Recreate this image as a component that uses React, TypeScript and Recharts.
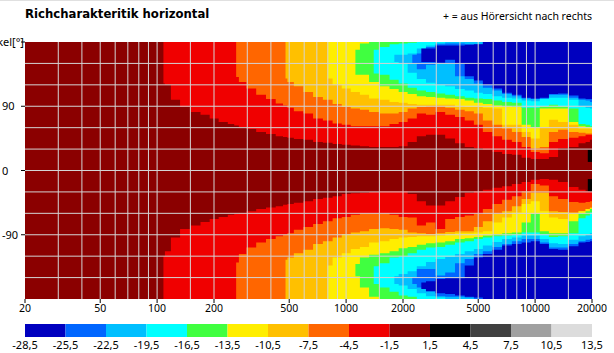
import React from 'react';
import { ComposedChart, Area, XAxis, YAxis, CartesianGrid } from 'recharts';

const freqs = [20, 100, 108, 112, 125, 140, 160, 180, 200, 224, 250, 262, 280, 315, 355, 400, 450, 478, 500, 560, 630, 710, 800, 900, 1000, 1120, 1250, 1400, 1600, 1800, 2000, 2240, 2500, 2800, 3150, 3550, 4000, 4500, 5000, 5600, 6300, 7100, 8000, 9000, 10000, 11200, 12500, 14000, 16000, 18000, 19000, 20000];
const at = (start: number, vals: number[]) => {
  const s = freqs.indexOf(start);
  return freqs.map((_, i) => (i >= s && i - s < vals.length ? vals[i - s] : null));
};

// Upper half (positive angle): the edge nearest 0 degrees of each level
const upperRed = at(108, [122, 120, 99, 89, 82, 78, 73, 68, 65, 63, 61, 58, 54, 51, 48, 47, 46, 44, 43, 40, 39, 37, 36, 35, 34, 33, 33, 33, 34, 40, 48, 50, 50, 45, 38, 33, 31, 29, 26, 23, 22, 18, 16, 16, 19, 31, 33, 38, 40, 43]);
const upperOrange = at(262, [131, 124, 115, 106, 100, 94, 91, 88, 83, 80, 73, 70, 66, 64, 62, 62, 62, 62, 65, 68, 73, 80, 78, 82, 78, 75, 70, 64, 54, 48, 43, 40, 33, 26, 24, 40, 44, 46, 48, 50, 50]);
const upperAmber = at(478, [129, 124, 118, 110, 103, 99, 93, 89, 87, 85, 82, 80, 80, 82, 87, 89, 90, 90, 88, 85, 83, 80, 70, 64, 59, 54, 47, 31, 33, 54, 57, 54, 53, 52, 52]);
const upperYellow = at(800, [129, 120, 115, 110, 106, 101, 99, 96, 95, 93, 92, 92, 92, 92, 90, 89, 89, 88, 87, 64, 64, 54, 45, 61, 71, 68, 64, 59, 59, 58]);
const upperGreen = at(1120, [134, 134, 124, 118, 114, 110, 107, 104, 103, 102, 101, 100, 98, 95, 93, 91, 90, 89, 64, 61, 87, 87, 87, 68, 62, 61, 60]);
const upperGreenTop = at(1120, [169, 178]);
const upperCyan = at(1400, [136, 134, 127, 122, 116, 112, 110, 108, 106, 104, 102, 101, 100, 98, 96, 95, 88, 88, 90, 92, 90, 87, 65, 64, 62]);
const upperCyanTop = at(1400, [169, 173, 177, 178, 179]);
const upperSky = at(1800, [152, 150, 137, 128, 123, 120, 118, 114, 112, 109, 107, 104, 102, 101, 98, 97, 100, 102, 102, 99, 90, 88, 87]);
const upperSkyTop = at(1800, [162, 162, 164, 171, 175, 179]);
const upperBlue = at(2240, [150, 142, 148, 151, 150, 132, 128, 122, 116, 112, 107, 104, 101, 100, 101, 106, 106, 102, 99, 98, 96]);
const upperBlueTop = at(2240, [162, 164, 173, 177, 178, 178, 177, 177]);
const upperNavy = at(2500, [152, 152, 151, 155, 150, 132, 126, 120, 115, 109, 106, 102, 101, 102, 107, 108, 105, 101, 100, 100]);
const upperNavyTop = at(2500, [171, 171, 175, 175, 175, 176, 177]);
const upperBlack = at(19000, [12, 12]);
const upperBlackTop = at(19000, [29, 29]);

// Lower half (negative angle)
const lowerRed = at(108, [-120, -113, -94, -82, -77, -72, -68, -65, -62, -61, -60, -57, -54, -52, -50, -48, -47, -45, -43, -40, -38, -36, -33, -32, -31, -30, -29, -29, -29, -33, -43, -49, -49, -43, -37, -31, -29, -27, -24, -22, -19, -16, -13, -12, -13, -16, -23, -27, -29, -30]);
const lowerOrange = at(262, [-129, -117, -108, -101, -96, -92, -90, -88, -83, -79, -75, -71, -67, -65, -62, -60, -60, -60, -62, -65, -66, -77, -73, -82, -68, -65, -63, -61, -54, -47, -41, -36, -29, -19, -21, -36, -40, -44, -45, -44, -43]);
const lowerAmber = at(478, [-125, -122, -116, -111, -103, -99, -94, -89, -87, -85, -82, -81, -82, -83, -87, -88, -89, -88, -86, -85, -85, -79, -71, -61, -57, -50, -40, -31, -31, -57, -58, -59, -57, -54, -52]);
const lowerYellow = at(800, [-133, -122, -116, -110, -107, -101, -99, -96, -94, -93, -92, -92, -91, -89, -88, -88, -87, -85, -73, -66, -59, -47, -43, -57, -66, -68, -61, -57, -54, -53]);
const lowerGreen = at(1120, [-131, -122, -118, -116, -113, -109, -107, -104, -102, -101, -99, -96, -95, -93, -91, -89, -88, -87, -73, -61, -85, -88, -88, -71, -60, -57, -54]);
const lowerGreenEnd = at(1120, [-148, -164, -177]);
const lowerCyan = at(1400, [-134, -130, -122, -120, -116, -111, -108, -107, -104, -101, -99, -96, -94, -92, -91, -90, -87, -87, -89, -93, -92, -88, -67, -63, -59]);
const lowerCyanEnd = at(1400, [-159, -164, -170, -175, -177]);
const lowerSky = at(1800, [-148, -145, -141, -134, -128, -124, -121, -117, -113, -110, -105, -100, -96, -94, -91, -91, -96, -102, -103, -97, -92, -90, -88]);
const lowerSkyEnd = at(1800, [-159, -161, -166, -172, -176, -178]);
const lowerBlue = at(2240, [-150, -138, -138, -147, -143, -130, -124, -117, -113, -107, -103, -99, -96, -96, -101, -108, -108, -103, -99, -97, -96]);
const lowerBlueEnd = at(2240, [-159, -164, -169, -176, -177, -177, -178]);
const lowerNavy = at(2500, [-157, -155, -152, -151, -151, -133, -122, -117, -111, -105, -103, -101, -99, -103, -110, -111, -106, -101, -100, -99]);
const lowerNavyEnd = at(2500, [-166, -169, -172, -173, -175, -177, -178]);
const lowerBlack = at(19000, [-12, -12]);
const lowerBlackEnd = at(19000, [-29, -29]);

const NAVY = '#0000BF', BLUE = '#0066FF', SKY = '#00BFFF', CYAN = '#00FFFF', GREEN = '#40FF40', YELLOW = '#FFEE00', AMBER = '#FFC000', ORANGE = '#FF6600', RED = '#F00000', DARK = '#8B0000', BLACK = '#000000', GREY1 = '#404040', GREY2 = '#A0A0A0', GREY3 = '#DCDCDC';

const upperLayers: [string, (number | null)[], (number | null)[] | null, string][] = [
  ['uRed', upperRed, null, RED], ['uOrange', upperOrange, null, ORANGE], ['uAmber', upperAmber, null, AMBER], ['uYellow', upperYellow, null, YELLOW],
  ['uGreen', upperGreen, upperGreenTop, GREEN], ['uCyan', upperCyan, upperCyanTop, CYAN], ['uSky', upperSky, upperSkyTop, SKY], ['uBlue', upperBlue, upperBlueTop, BLUE], ['uNavy', upperNavy, upperNavyTop, NAVY], ['uBlack', upperBlack, upperBlackTop, BLACK],
];
const lowerLayers: [string, (number | null)[], (number | null)[] | null, string][] = [
  ['lRed', lowerRed, null, RED], ['lOrange', lowerOrange, null, ORANGE], ['lAmber', lowerAmber, null, AMBER], ['lYellow', lowerYellow, null, YELLOW],
  ['lGreen', lowerGreen, lowerGreenEnd, GREEN], ['lCyan', lowerCyan, lowerCyanEnd, CYAN], ['lSky', lowerSky, lowerSkyEnd, SKY], ['lBlue', lowerBlue, lowerBlueEnd, BLUE], ['lNavy', lowerNavy, lowerNavyEnd, NAVY], ['lBlack', lowerBlack, lowerBlackEnd, BLACK],
];

const rows = freqs.map((f, i) => {
  const row: any = { f, base: [-180, 180] };
  for (const [k, lo, hi] of upperLayers) row[k] = lo[i] == null ? null : [lo[i], (hi && hi[i]) ?? 180];
  for (const [k, lo, hi] of lowerLayers) row[k] = lo[i] == null ? null : [(hi && hi[i]) ?? -180, lo[i]];
  return row;
});

const xTicks = [20, 50, 100, 200, 500, 1000, 2000, 5000, 10000, 20000];
const xGrid = [30, 40, 50, 60, 70, 80, 90, 100, 150, 200, 300, 400, 500, 600, 700, 800, 900, 1000, 1500, 2000, 3000, 4000, 5000, 6000, 7000, 8000, 9000, 10000, 15000];
const yGrid = [-150, -120, -90, -60, -30, 0, 30, 60, 90, 120, 150];
const yTicks = [-90, 0, 90, 180];
const legendTicks = [-28.5, -25.5, -22.5, -19.5, -16.5, -13.5, -10.5, -7.5, -4.5, -1.5, 1.5, 4.5, 7.5, 10.5, 13.5];
const legendColors = [NAVY, BLUE, SKY, CYAN, GREEN, YELLOW, AMBER, ORANGE, RED, DARK, BLACK, GREY1, GREY2, GREY3];
const legendRows = legendTicks.map((v, i) => {
  const row: any = { v };
  legendColors.forEach((_, c) => { row['c' + c] = c === i || c === i - 1 ? 1 : null; });
  return row;
});

const FONT = '"Noto Sans", sans-serif';

const YTick = (p: any) => {
  const v = p.payload.value;
  if (v === 180) return <text x={24} y={p.y + 4} textAnchor="end" fontFamily={FONT} fontSize={11} fill="#000">Winkel[°]</text>;
  return <text x={2} y={p.y + 4} fontFamily={FONT} fontSize={11} fill="#000">{v}</text>;
};

export default function App() {
  return (
    <div style={{ position: 'absolute', left: 0, top: 0, width: 614, height: 353, background: '#fff', overflow: 'hidden', fontFamily: FONT }}>
      <div style={{ position: 'absolute', left: 0, top: 0, width: 614, height: 1, background: '#E0E0E0' }} />
      <div style={{ position: 'absolute', left: 25, top: 7, fontFamily: '"DejaVu Sans", sans-serif', fontWeight: 700, fontSize: 11.7, color: '#000', whiteSpace: 'nowrap' }}>Richcharakteritik horizontal</div>
      <div style={{ position: 'absolute', right: 22, top: 9, fontSize: 10.5, color: '#000', whiteSpace: 'nowrap' }}>+ = aus Hörersicht nach rechts</div>
      <div style={{ position: 'absolute', left: 0, top: 0 }}>
        <ComposedChart width={614} height={320} data={rows} margin={{ top: 42, right: 22, bottom: 0, left: 0 }}>
          <XAxis dataKey="f" type="number" scale="log" domain={[20, 20000]} ticks={xTicks} interval={0} allowDataOverflow height={21} axisLine={false} tickLine={{ stroke: '#000' }} tickSize={4} tick={{ fontFamily: FONT, fontSize: 10.5, fill: '#000' }} tickMargin={2} />
          <YAxis type="number" domain={[-180, 180]} ticks={yTicks} interval={0} allowDataOverflow width={25} axisLine={false} tickLine={{ stroke: '#000' }} tickSize={4} tick={YTick} />
          <Area dataKey="base" type="step" stroke="none" fill={DARK} fillOpacity={1} isAnimationActive={false} dot={false} activeDot={false} />
          {[...upperLayers, ...lowerLayers].map(([k, , , c]) => (
            <Area key={k} dataKey={k} type="step" stroke="none" fill={c} fillOpacity={1} isAnimationActive={false} dot={false} activeDot={false} />
          ))}
          <CartesianGrid stroke="#D4D4D4" strokeWidth={1} verticalValues={xGrid} horizontalValues={yGrid} zIndex={1000} />
        </ComposedChart>
      </div>
      <div style={{ position: 'absolute', left: 0, top: 320 }}>
        <ComposedChart width={614} height={33} data={legendRows} margin={{ top: 4, right: 22, bottom: 0, left: 25 }}>
          <XAxis dataKey="v" type="number" domain={[-28.5, 13.5]} ticks={legendTicks} interval={0} allowDataOverflow height={16} axisLine={false} tickLine={false} tickSize={0} tick={{ fontFamily: FONT, fontSize: 11, fill: '#000' }} tickMargin={4} tickFormatter={(v: number) => v.toFixed(1).replace('.', ',')} />
          <YAxis hide type="number" domain={[0, 1]} />
          {legendColors.map((c, i) => (
            <Area key={c} dataKey={'c' + i} type="linear" stroke="none" fill={c} fillOpacity={1} baseValue={0} isAnimationActive={false} dot={false} activeDot={false} />
          ))}
        </ComposedChart>
      </div>
    </div>
  );
}
